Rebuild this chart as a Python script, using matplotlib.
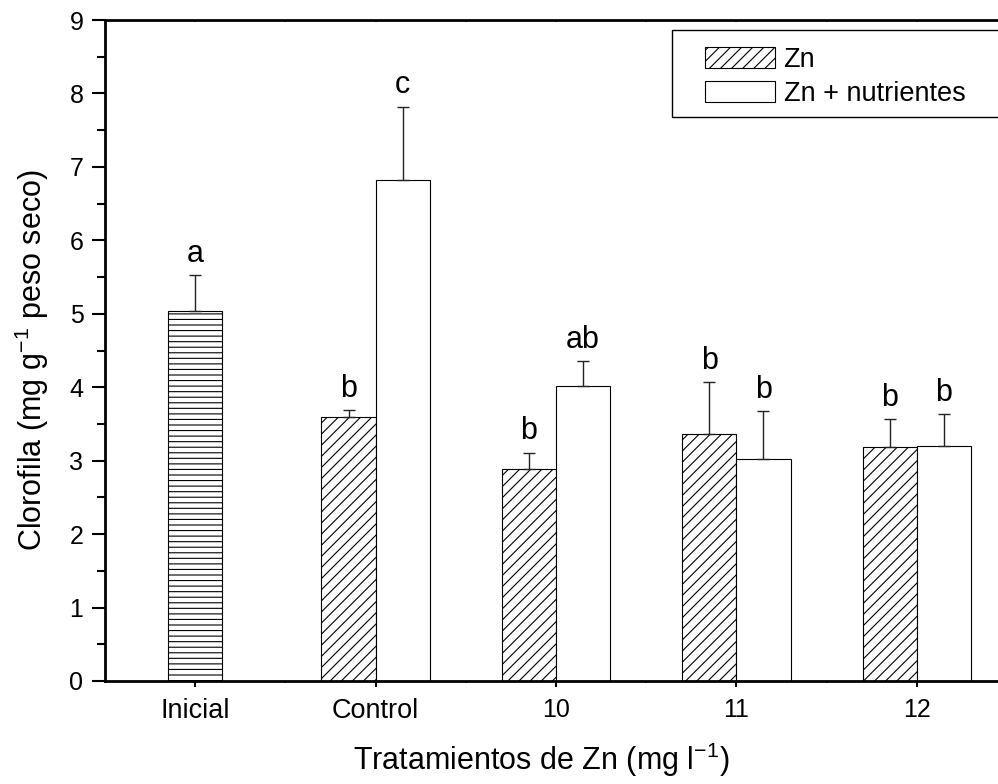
import numpy as np
import matplotlib.pyplot as plt
from matplotlib.patches import Rectangle, Patch
from matplotlib.ticker import MultipleLocator

plt.rcParams['font.family'] = ['Liberation Sans', 'DejaVu Sans']
plt.rcParams['hatch.linewidth'] = 0.8
plt.rcParams['mathtext.fontset'] = 'custom'
plt.rcParams['mathtext.rm'] = 'Liberation Sans'

# DATA ---------------------------------------------------------------------------------------------
categories = ['Inicial', 'Control', '10', '11', '12']

inicial_mean = 5.04
inicial_err = 0.49
inicial_letter = 'a'

zn_mean = [3.60, 2.89, 3.36, 3.19]
zn_err = [0.09, 0.22, 0.71, 0.38]
zn_letters = ['b', 'b', 'b', 'b']

nut_mean = [6.82, 4.02, 3.02, 3.20]
nut_err = [1.00, 0.34, 0.65, 0.43]
nut_letters = ['c', 'ab', 'b', 'b']

# PLOT ---------------------------------------------------------------------------------------------
fig = plt.figure(figsize=(9.98, 7.84), dpi=100)
ax = fig.add_axes([105/998, 103/784, 902/998, 661/784])

w = 0.3
x = np.arange(len(categories))
xt = x[1:]

ax.bar(x[0], inicial_mean, width=w, facecolor='white', edgecolor='black', linewidth=0.8, hatch='---')
ax.bar(xt - w/2, zn_mean, width=w, facecolor='white', edgecolor='black', linewidth=0.8, hatch='///')
ax.bar(xt + w/2, nut_mean, width=w, facecolor='white', edgecolor='black', linewidth=0.8)

# upper error bars only
err_kw = dict(fmt='none', ecolor='#222222', elinewidth=1.0, capsize=4.6, capthick=1.0)
ax.errorbar([x[0]], [inicial_mean], yerr=[[0], [inicial_err]], **err_kw)
ax.errorbar(xt - w/2, zn_mean, yerr=[np.zeros(4), zn_err], **err_kw)
ax.errorbar(xt + w/2, nut_mean, yerr=[np.zeros(4), nut_err], **err_kw)

# significance letters
def letter(xp, top, s):
    ax.annotate(s, (xp, top), xytext=(0, 9.5), textcoords='offset points',
                ha='center', va='baseline', fontsize=22)

letter(x[0], inicial_mean + inicial_err, inicial_letter)
for i in range(4):
    letter(xt[i] - w/2, zn_mean[i] + zn_err[i], zn_letters[i])
    letter(xt[i] + w/2, nut_mean[i] + nut_err[i], nut_letters[i])

# axes formatting
ax.set_xlim(-0.5, 4.5)
ax.set_ylim(0, 9)
ax.spines['right'].set_visible(False)
for s in ['left', 'bottom', 'top']:
    ax.spines[s].set_linewidth(2.0)

ax.set_xticks(x)
ax.set_xticklabels(categories)
for lab in ax.get_xticklabels():
    lab.set_fontsize(19.5 if not lab.get_text().isdigit() else 18)
ax.xaxis.set_minor_locator(MultipleLocator(0.5))
ax.yaxis.set_major_locator(MultipleLocator(1))
ax.yaxis.set_minor_locator(MultipleLocator(0.5))
ax.tick_params(axis='y', which='major', direction='out', length=9.5, width=1.5, labelsize=18, pad=6)
ax.tick_params(axis='y', which='minor', direction='out', length=5.8, width=1.5)
ax.tick_params(axis='x', which='major', direction='out', length=4.5, width=1.5, pad=8)
ax.tick_params(axis='x', which='minor', direction='out', length=1.5, width=1.5)

top = ax.secondary_xaxis('top')
top.set_xticks(x)
top.xaxis.set_minor_locator(MultipleLocator(0.5))
top.tick_params(which='both', direction='in', length=1.5, width=1.5, labeltop=False)
top.spines['top'].set_visible(False)

fig.text(32/998, 1 - 360/784, 'Clorofila (mg g$^{-1}$ peso seco)', fontsize=22,
         rotation=90, ha='center', va='center')
fig.text(541/998, 1 - 770/784, 'Tratamientos de Zn (mg l$^{-1}$)', fontsize=22,
         ha='center', va='baseline')

# legend with a hand-drawn frame (box runs past the right edge)
fig.patches.append(Rectangle((672/998, 1 - 117/784), 400/998, 87/784, transform=fig.transFigure,
                             facecolor='white', edgecolor='black', linewidth=1.0, zorder=5))
handles = [Patch(facecolor='white', edgecolor='black', linewidth=0.8, hatch='///', label='Zn'),
           Patch(facecolor='white', edgecolor='black', linewidth=0.8, label='Zn + nutrientes')]
fig.legend(handles=handles, loc='upper left', bbox_to_anchor=(705/998, 1 - 47/784),
           frameon=False, fontsize=19.5, handlelength=2.6, handleheight=0.8,
           handletextpad=0.3, labelspacing=0.3, borderpad=0, borderaxespad=0)

fig.savefig('out.png', dpi=100)
